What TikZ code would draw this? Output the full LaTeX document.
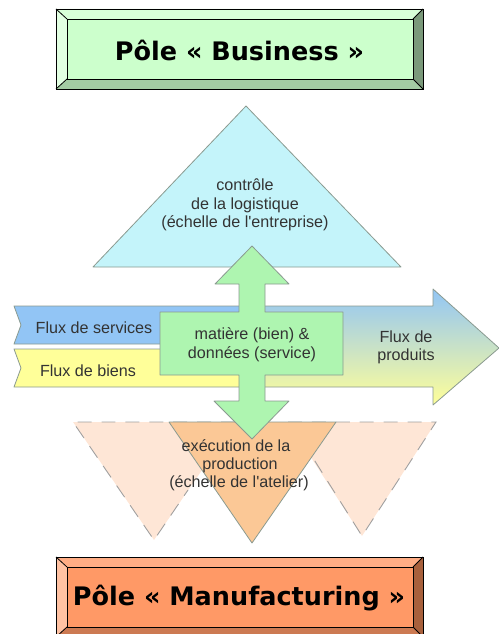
\documentclass[tikz,border=0pt]{standalone}
\usepackage{fontspec}
\setmainfont{Liberation Sans}
\newfontfamily\verd{DejaVu Sans}
\definecolor{bgreen}{HTML}{CCFFCC}
\definecolor{bgT}{HTML}{D8FFD8}
\definecolor{bgL}{HTML}{E2FFE2}
\definecolor{bgR}{HTML}{7A997A}
\definecolor{bgB}{HTML}{A3CCA3}
\definecolor{borange}{HTML}{FF9966}
\definecolor{boT}{HTML}{FFAD85}
\definecolor{boL}{HTML}{FFC2A3}
\definecolor{boR}{HTML}{A8603C}
\definecolor{boB}{HTML}{CC7A52}
\definecolor{triblue}{HTML}{C4F4FA}
\definecolor{triorange}{HTML}{FBC896}
\definecolor{tripale}{HTML}{FEE6D6}
\definecolor{cross}{HTML}{AEF5B0}
\definecolor{edge}{HTML}{8A9A90}
\definecolor{flowblue}{HTML}{92C5F5}
\definecolor{flowyellow}{HTML}{FFFF99}
\definecolor{ink}{HTML}{333333}
\definecolor{ghostline}{HTML}{A0A0A0}
\tikzset{
  bevel/.style={draw=black,line width=0.8pt,line join=miter},
  polelabel/.style={font=\verd\bfseries\fontsize{25.6}{28}\selectfont,text=black,inner sep=0pt},
  lab/.style={font=\fontsize{16.2}{18.3}\selectfont,text=ink,align=center,inner sep=0pt},
  solidtri/.style={draw=edge,line width=0.8pt,line join=round},
  ghost/.style={fill=tripale,draw=none},
  ghostedge/.style={draw=ghostline,line width=0.9pt,dash pattern=on 14pt off 10pt},
}
\begin{document}
\begin{tikzpicture}[x=1bp,y=-1bp]
\useasboundingbox (0,0) rectangle (499,634);
% top pole
\fill[bgT] (56,9) -- (423,9) -- (413,19) -- (67,19) -- cycle;
\fill[bgL] (56,9) -- (67,19) -- (67,79) -- (56,89) -- cycle;
\fill[bgR] (423,9) -- (413,19) -- (413,79) -- (423,89) -- cycle;
\fill[bgB] (56,89) -- (67,79) -- (413,79) -- (423,89) -- cycle;
\draw[bevel,fill=bgreen] (67,19) rectangle (413,79);
\draw[bevel] (56,9) rectangle (423,89);
\draw[bevel] (56,9) -- (67,19) (423,9) -- (413,19) (56,89) -- (67,79) (423,89) -- (413,79);
\node[polelabel] (business) at (239.5,50) {Pôle « Business »};
% top triangle
\draw[solidtri,fill=triblue] (246,106) -- (401,267) -- (93,267) -- cycle;
\node[lab] (controle) at (245,205) {contrôle\\de la logistique\\(échelle de l\textquotesingle entreprise)};
% lower triangles
\fill[ghost] (73,422) -- (235,422) -- (154,540) -- cycle;
\fill[ghost] (288,422) -- (436,422) -- (362,536) -- cycle;
\draw[ghostedge] (235,422) -- (73,422) -- (154,540) -- (188,490);
\draw[ghostedge] (288,422) -- (436,422) -- (362,536) -- (313,458);
\draw[solidtri,fill=triorange] (169,422) -- (336,422) -- (252,543) -- cycle;
% flows
\shade[top color=flowblue,bottom color=flowyellow]
  (239,306) -- (433,306) -- (433,289) -- (499,348) -- (433,405) -- (433,387) -- (239,387) -- cycle;
\draw[solidtri] (239,306) -- (433,306) -- (433,289) -- (499,348) -- (433,405) -- (433,387) -- (239,387);
\draw[solidtri,fill=flowblue] (170,344) -- (14,344) -- (21,325) -- (14,306) -- (240,306) -- (240,344) -- cycle;
\draw[solidtri,fill=flowyellow] (170,349) -- (14,349) -- (21,368) -- (14,387) -- (240,387) -- (240,349) -- cycle;
\node[lab] (services) at (94,328) {Flux de services};
\node[lab] (biens) at (88,371) {Flux de biens};
\node[lab] (produits) at (406,347.5) {Flux de\\produits};
% cross arrow
\draw[solidtri,fill=cross] (252,246) -- (289,284) -- (265,284) -- (265,312) -- (343,312) -- (343,375) -- (265,375) -- (265,401) -- (289,401) -- (252,439) -- (214,401) -- (239,401) -- (239,375) -- (160,375) -- (160,312) -- (239,312) -- (239,284) -- (215,284) -- cycle;
\node[lab,font=\fontsize{16.2}{19}\selectfont] (matiere) at (252,344.5) {matière (bien) \&\\données (service)};
\node[lab] (execution) at (239,465) {\hspace*{-6pt}exécution de la\\\hspace*{2pt}production\\(échelle de l\textquotesingle atelier)};
% bottom pole
\fill[boT] (56,557) -- (423,557) -- (413,567) -- (67,567) -- cycle;
\fill[boL] (56,557) -- (67,567) -- (67,627) -- (56,637) -- cycle;
\fill[boR] (423,557) -- (413,567) -- (413,627) -- (423,637) -- cycle;
\fill[boB] (56,637) -- (67,627) -- (413,627) -- (423,637) -- cycle;
\draw[bevel,fill=borange] (67,567) rectangle (413,627);
\draw[bevel] (56,557) rectangle (423,637);
\draw[bevel] (56,557) -- (67,567) (423,557) -- (413,567) (56,637) -- (67,627) (423,637) -- (413,627);
\node[polelabel] (manufacturing) at (239,598) {Pôle « Manufacturing »};
\end{tikzpicture}
\end{document}
